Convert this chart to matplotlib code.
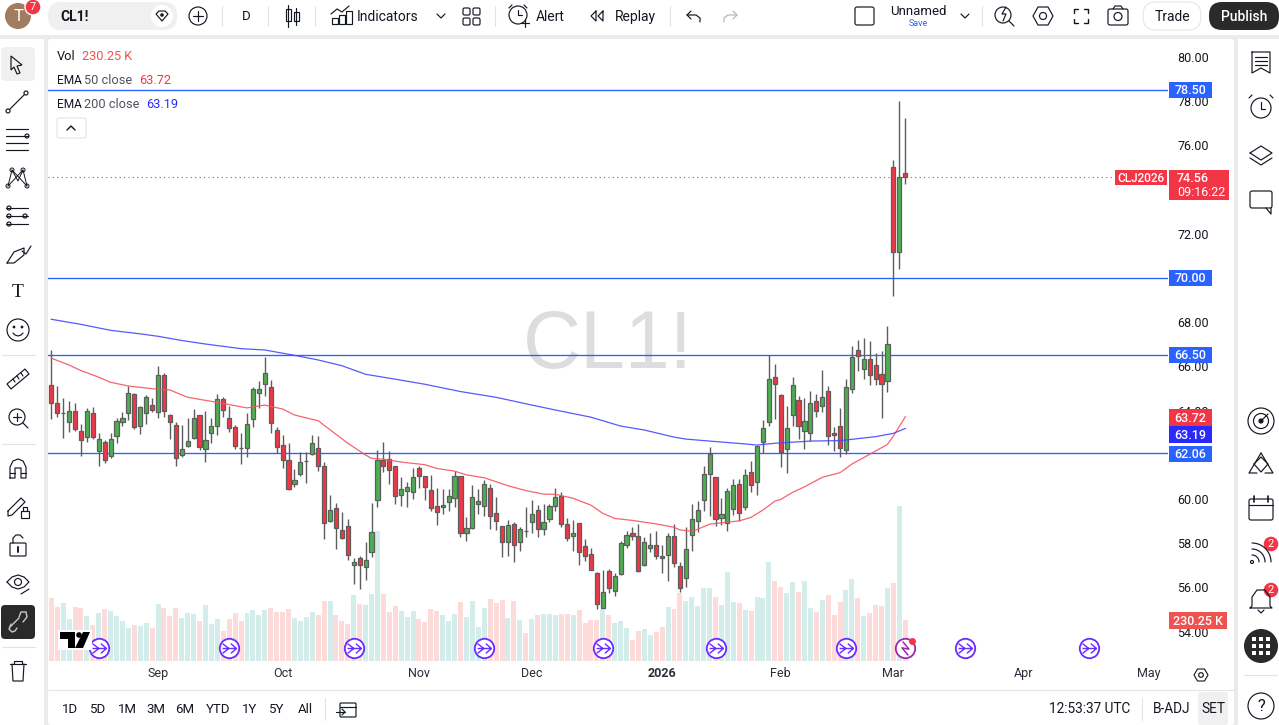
import numpy as np
import matplotlib
matplotlib.use('Agg')
from matplotlib import pyplot as plt
from matplotlib.patches import Circle, Rectangle, FancyBboxPatch, Polygon
from matplotlib.path import Path

# daily bars
opens = [65.14,64.33,63.88,63.47,63.97,63.06,62.79,63.88,62.16,62.57,
         61.93,62.84,63.47,63.88,64.74,63.29,63.88,64.24,63.92,65.60,
         63.79,63.34,61.98,62.41,62.75,63.79,62.25,62.97,63.29,64.54,
         63.65,63.24,62.31,62.29,63.61,64.78,65.19,65.05,63.11,62.43,
         61.75,60.67,61.12,61.70,62.02,62.29,61.48,58.99,59.58,58.58,
         58.76,57.00,57.31,56.91,57.59,59.94,61.75,61.79,61.48,60.17,
         60.35,60.30,61.39,61.03,60.39,59.67,59.62,59.85,60.03,61.03,
         58.45,58.67,59.76,59.67,60.48,59.35,58.76,58.04,58.85,58.04,
         58.55,58.94,59.49,58.63,59.08,59.67,60.12,58.85,58.34,58.90,
         57.86,57.50,56.64,55.05,56.73,55.85,56.59,57.91,58.45,58.31,
         57.00,57.77,57.91,57.41,57.45,58.31,56.96,56.41,58.36,58.99,
         59.94,61.12,60.98,59.13,58.90,59.54,60.67,59.62,61.21,60.76,
         62.57,63.47,65.51,64.69,62.25,63.79,64.47,63.06,62.97,64.42,
         64.20,64.87,62.97,63.29,62.20,64.96,66.73,65.87,66.32,66.05,
         65.64,65.32,75.01,71.19,74.74]
closes = [64.33,63.88,63.88,63.97,63.15,62.66,63.97,62.79,62.70,61.75,
          62.70,63.52,63.65,64.78,63.24,64.15,64.60,64.01,65.60,63.97,
          63.47,61.84,62.25,62.61,63.65,62.34,62.66,63.29,64.51,64.01,
          63.23,62.38,62.29,63.38,64.96,64.96,65.69,63.43,62.34,61.75,
          60.44,60.85,61.66,61.70,62.52,61.48,58.90,59.49,58.67,58.25,
          57.45,57.14,57.00,57.22,58.49,61.75,61.48,61.30,60.12,60.44,
          60.53,60.98,61.03,60.53,59.58,59.40,59.71,60.12,61.03,58.45,
          58.67,60.08,59.89,60.66,59.22,58.99,58.04,58.81,57.90,58.63,
          58.54,59.31,58.63,58.94,59.67,60.08,58.85,58.22,58.45,57.59,
          57.41,56.77,55.23,55.78,55.96,56.50,58.00,58.36,58.31,56.73,
          58.04,57.91,57.41,57.32,58.31,57.09,55.96,57.72,59.08,59.49,
          61.12,62.02,59.08,59.31,60.35,60.62,59.35,61.07,60.62,62.38,
          63.20,65.42,65.19,62.11,63.20,65.14,63.29,63.51,64.33,63.97,
          64.60,62.84,62.88,62.29,65.05,66.41,66.46,66.32,65.60,65.42,
          65.19,67.00,71.19,74.56,74.56]
highs = [66.74,65.11,64.57,64.44,64.33,63.40,64.10,64.15,62.97,62.67,
         62.97,63.65,63.92,65.11,64.78,64.20,64.69,64.56,66.02,65.69,
         63.83,63.47,63.35,63.65,64.06,63.79,63.98,63.65,64.74,64.60,
         64.21,63.33,62.97,63.88,65.05,65.33,66.41,65.37,63.24,62.88,
         62.52,61.34,62.11,62.11,62.88,62.84,61.66,60.18,59.81,59.40,
         59.08,57.31,57.41,58.04,59.80,62.22,62.56,62.16,61.48,60.98,
         60.77,61.39,61.48,61.03,61.07,60.48,60.44,60.44,61.25,61.03,
         59.17,60.62,60.44,60.86,60.66,60.08,58.76,59.04,58.94,58.72,
         59.62,59.94,59.71,59.76,59.76,60.48,60.30,59.13,59.04,58.90,
         58.17,57.77,56.68,56.77,56.82,56.64,58.10,58.55,58.73,58.86,
         58.27,58.45,58.54,57.91,58.45,58.87,57.14,58.74,59.78,59.90,
         61.48,62.34,60.98,60.03,60.48,60.89,60.89,61.34,61.71,62.38,
         63.56,66.50,66.09,64.74,64.20,65.51,64.65,64.56,64.87,64.74,
         65.82,65.10,63.24,64.10,65.42,66.94,67.20,67.28,67.15,66.59,
         66.68,67.83,75.34,78.01,77.24]
lows = [63.64,63.73,62.78,63.05,63.09,61.96,62.60,62.70,61.47,61.65,
        61.84,62.55,63.30,63.56,63.15,62.96,63.37,63.92,63.68,63.73,
        62.73,61.47,61.89,62.37,62.73,62.22,61.69,62.55,62.91,63.73,
        63.05,62.25,61.60,61.89,63.27,64.10,64.66,63.00,62.07,61.42,
        60.41,60.56,61.06,60.74,62.01,61.28,58.21,58.97,57.73,58.20,
        57.24,56.17,55.94,56.35,57.36,59.65,61.24,60.69,59.79,59.70,
        59.65,60.02,60.51,59.97,59.44,58.84,59.34,59.44,59.65,58.30,
        58.11,58.66,59.34,59.25,58.66,58.61,57.39,57.44,57.14,57.66,
        58.30,58.48,58.30,58.39,58.97,59.44,58.72,58.11,57.66,57.03,
        57.18,56.77,55.01,55.05,55.73,55.63,56.56,57.77,58.15,56.68,
        56.96,57.60,57.27,56.64,56.31,56.91,55.78,56.01,57.63,58.50,
        59.47,59.22,58.78,58.83,58.54,59.26,58.99,59.50,60.33,60.17,
        62.10,63.29,63.61,61.43,61.16,63.30,62.70,62.25,62.61,63.70,
        63.92,62.43,62.16,61.89,62.02,64.78,65.81,65.42,65.16,65.14,
        63.65,64.86,69.19,70.41,74.25]
# volume in thousands
volumes = [354,303,326,236,303,298,253,202,270,292,
           281,253,225,185,202,197,213,185,320,298,
           253,298,241,270,264,225,314,208,236,168,
           236,270,225,270,286,258,286,298,275,275,
           292,241,225,247,275,258,337,337,258,225,
           208,371,320,314,376,730,376,275,309,281,
           247,281,236,219,292,281,258,225,264,331,
           247,337,191,298,348,326,343,241,337,230,
           157,236,258,264,264,258,264,264,258,286,
           213,230,230,292,258,213,225,185,118,168,
           180,146,163,191,303,292,382,337,359,309,
           410,410,359,314,500,331,326,286,281,359,
           354,556,449,416,382,444,388,449,298,275,
           343,371,258,331,399,461,354,253,270,314,
           309,410,438,870,230.25]

ema50_idx = [0,3,5,8,10,13,18,20,23,28,33,36,39,41,45,48,50,53,54,56,59,63,65,68,70,73,77,80,
             83,85,88,91,93,95,98,102,105,106,108,109,111,114,116,118,120,122,123,125,127,130,
             133,135,138,141,142,144]
ema50 = [66.37,66.06,65.81,65.51,65.28,65.11,64.96,64.93,64.60,64.37,64.12,64.25,64.07,63.80,
         63.54,62.93,62.52,61.99,61.84,61.80,61.67,61.55,61.38,61.26,61.09,60.96,60.60,60.38,
         60.22,60.21,60.03,59.72,59.35,59.12,59.03,58.87,58.72,58.60,58.54,58.63,58.86,58.95,
         59.01,59.17,59.50,59.90,59.98,60.30,60.55,60.98,61.19,61.58,62.02,62.47,62.85,63.72]
ema200_idx = [0,5,10,15,18,22,26,32,36,41,45,49,53,58,63,69,75,81,86,91,96,100,105,107,111,
              117,119,122,128,133,135,139,142,144]
ema200 = [68.13,67.90,67.63,67.47,67.36,67.17,67.01,66.80,66.74,66.50,66.29,66.03,65.64,65.42,
          65.19,64.86,64.60,64.25,63.97,63.70,63.30,63.12,62.80,62.71,62.62,62.49,62.44,62.52,
          62.62,62.64,62.70,62.82,62.97,63.19]

hlines = [78.50, 70.00, 66.50, 62.06]
last_price = 74.56
event_idx = [8, 30, 51, 73, 93, 112, 134, 154, 175]
earnings_idx = [144]
price_ticks = list(range(54, 82, 2))
month_ticks = [18, 39, 62, 81, 103, 123, 142, 164, 185]
month_labels = ['Sep', 'Oct', 'Nov', 'Dec', '2026', 'Feb', 'Mar', 'Apr', 'May']
range_labels = ['1D', '5D', '1M', '3M', '6M', 'YTD', '1Y', '5Y', 'All']
range_x = [70, 98, 127, 156, 185, 218, 250, 277, 305]

plt.rcParams['font.family'] = ['Roboto', 'DejaVu Sans']
W, H = 1279, 725
INK = '#131722'
GREEN = '#4caf50'
RED = '#f23645'
BLUE = '#2962ff'
EMA_BLUE = '#2a2aff'
WICK = '#5d5d5d'

fig = plt.figure(figsize=(W / 100, H / 100), dpi=100, facecolor='#ebebeb')


def pane(x0, y0, x1, y1, **kw):
    return fig.add_axes([x0 / W, 1 - y1 / H, (x1 - x0) / W, (y1 - y0) / H], **kw)


def pixel_axes(zorder):
    a = fig.add_axes([0, 0, 1, 1], zorder=zorder)
    a.set_xlim(0, W)
    a.set_ylim(H, 0)
    a.axis('off')
    return a


bg = pixel_axes(0)
ui = pixel_axes(5)

X_LEFT, X_RIGHT, Y_TOP, Y_BOTTOM = 48, 1168, 39, 661
xlim = (-0.556, 188.3)

# volume sits in its own axes, under the candles
vax = pane(X_LEFT, Y_TOP, X_RIGHT, Y_BOTTOM, zorder=1)
vax.patch.set_visible(False)
vax.set_xlim(xlim)
vax.set_ylim(0, 3493)
vax.axis('off')

ax = pane(X_LEFT, Y_TOP, X_RIGHT, Y_BOTTOM, zorder=2)
ax.patch.set_visible(False)
ax.set_xlim(xlim)
ax.set_ylim(52.67, 80.81)
for s in ax.spines.values():
    s.set_visible(False)

idx = np.arange(len(closes))
o = np.array(opens)
c = np.array(closes)
up = c >= o

vax.bar(idx, volumes, width=0.84, color=['#d3eeea' if u else '#fddbda' for u in up], linewidth=0)
vax.text((608 - X_LEFT) / (X_RIGHT - X_LEFT), (Y_BOTTOM - 347) / (Y_BOTTOM - Y_TOP), 'CL1!',
         transform=vax.transAxes, ha='center', va='center', color='#dddddf',
         fontsize=58, family='Liberation Sans')

for level in hlines:
    ax.axhline(level, color=BLUE, lw=0.95, zorder=1)
ax.axhline(last_price, color=RED, lw=0.8, ls=(0, (1, 3)), zorder=1)

ax.vlines(idx, lows, highs, color=WICK, lw=1.0, zorder=3)
ax.bar(idx, np.abs(c - o), bottom=np.minimum(o, c), width=0.7,
       color=[GREEN if u else RED for u in up], edgecolor=WICK, linewidth=0.9, zorder=4)

ax.plot(ema50_idx, ema50, color='#f4545f', lw=0.9, alpha=0.9, zorder=5)
ax.plot(ema200_idx, ema200, color='#4646ff', lw=0.9, alpha=0.9, zorder=5)

# event markers along the bottom of the pane
arrow = Path([(-1, -.7), (-.1, 0), (-1, .7), (-1, 0), (1, 0), (.2, -.7), (1, 0), (.2, .7)],
             [1, 2, 2, 1, 2, 1, 2, 2])
mark_y = (Y_BOTTOM - 648) / (Y_BOTTOM - Y_TOP)
tr = ax.get_xaxis_transform()
ax.plot(event_idx, [mark_y] * len(event_idx), 'o', transform=tr, ms=14, mfc='white', mec='#6a2cff',
        mew=1.3, zorder=6, clip_on=False)
ax.plot(event_idx, [mark_y] * len(event_idx), ls='none', marker=arrow, transform=tr, ms=10,
        mfc='none', mec='#6a2cff', mew=1.0, zorder=7)
ax.plot(earnings_idx, [mark_y], 'o', transform=tr, ms=14, mfc='white', mec='#9c27b0', mew=1.3, zorder=6)
ax.plot(earnings_idx, [mark_y], ls='none', marker=Path([(.4, -1), (-.5, .1), (.5, -.1), (-.4, 1)]), transform=tr,
        ms=10, mfc='none', mec='#9c27b0', mew=1.1, zorder=7)
ax.plot(np.array(earnings_idx) + 1.1, [mark_y + 0.0113], 'o', transform=tr, ms=4, color=RED, zorder=8)

ax.yaxis.tick_right()
ax.set_yticks(price_ticks)
ax.set_yticklabels(['%.2f' % p for p in price_ticks], fontsize=9, color=INK)
ax.tick_params(axis='y', length=0, pad=6.5)
ax.set_xticks(month_ticks)
ax.set_xticklabels(month_labels, fontsize=9, color='#2a2e39')
ax.tick_params(axis='x', length=0, pad=4.5)
ax.get_xticklabels()[4].set_fontweight('bold')


# plain helpers for the toolbar furniture
def ln(xs, ys, col=INK, lw=0.85, a=None):
    (a or ui).plot(xs, ys, color=col, lw=lw, solid_capstyle='round', solid_joinstyle='round')


def ring(x, y, r, fc='none', ec=INK, lw=0.85, a=None):
    (a or ui).add_patch(Circle((x, y), r, fc=fc, ec=ec, lw=lw))


def box(x0, y0, x1, y1, fc='none', ec='none', lw=0.85, r=0, a=None):
    if r:
        p = FancyBboxPatch((x0 + r, y0 + r), x1 - x0 - 2 * r, y1 - y0 - 2 * r, boxstyle='round,pad=%g' % r,
                           fc=fc, ec=ec, lw=lw)
    else:
        p = Rectangle((x0, y0), x1 - x0, y1 - y0, fc=fc, ec=ec, lw=lw)
    (a or ui).add_patch(p)


def txt(x, y, s, size=9.5, col=INK, ha='left', weight='normal'):
    ui.text(x, y + 0.7, s, fontsize=size, color=col, ha=ha, va='center', fontweight=weight)


def tag(x0, y0, x1, y1, s, fc, size=9, weight='medium'):
    box(x0, y0, x1, y1, fc=fc)
    txt((x0 + x1) / 2, (y0 + y1) / 2, s, size=size, col='white', ha='center', weight=weight)


def badge(x, y, s, r=8):
    ring(x, y, r, fc=RED, ec='white', lw=1)
    txt(x, y - 0.7, s, size=8, col='white', ha='center')


# panels
box(0, 0, W, 35, fc='white', a=bg)
box(0, 39, 44, H, fc='white', a=bg)
box(48, 39, 1234, H, fc='white', a=bg, r=3)
box(1238, 39, W, H, fc='white', a=bg)
ln([48, 1234], [690, 690], col='#e6e6e6', lw=0.8, a=bg)

# top bar
ring(18, 16, 13, fc='#a27c5e', ec='none')
txt(18, 16, 'T', size=12, col='white', ha='center')
badge(33, 7, '7')
box(48, 2, 177, 30, fc='#f0f0f0', r=13)
txt(60, 16, 'CL1!', size=10, weight='bold')
ring(162, 16, 11, fc='white', ec='none')
ui.add_patch(Polygon([(156, 14), (159, 11), (165, 11), (168, 14), (162, 21)], fc='none', ec=INK, lw=0.85))
ring(162, 15, 1.8, fc=INK, ec='none')
ring(198, 16, 9)
ln([193, 203], [16, 16])
ln([198, 198], [11, 21])
for sx in [222, 268, 315, 495, 670, 982]:
    ln([sx, sx], [6, 26], col='#e0e3eb', lw=0.8)
txt(246, 16, 'D', size=9.5, ha='center')
# candle icon
for cx, t, b, wt, wb in [(288, 9, 21, 5, 27), (296, 12, 21, 8, 25)]:
    ln([cx, cx], [wt, wb])
    box(cx - 2.5, t, cx + 2.5, b, fc='white', ec=INK)
# indicators icon
for bx, bt in [(332, 18), (339, 15), (346, 11)]:
    box(bx, bt, bx + 6, 24, ec=INK)
ln([331, 337, 342, 349], [14, 9, 12, 6])
txt(357, 16, 'Indicators', size=10)
ln([437, 441, 445], [14, 18, 14])
for gx, gy in [(463, 8), (473, 8), (463, 18), (473, 18)]:
    box(gx, gy, gx + 7, gy + 7, ec=INK, r=1.5)
# alert
ring(518, 15, 9)
ln([518, 518, 522], [10, 15, 15])
ln([509, 512], [8, 5])
ln([524, 527], [5, 8])
ln([521, 529], [23, 23])
ln([525, 525], [19, 27])
txt(536, 16, 'Alert', size=10)
ln([596, 591, 596, 596], [11, 16, 21, 11])
ln([603, 598, 603, 603], [11, 16, 21, 11])
txt(615, 16, 'Replay', size=10)
ln([691, 687, 691], [11, 15, 19])
ln([687, 696, 700, 700], [15, 15, 18, 22])
ln([733, 737, 733], [11, 15, 19], col='#b2b5be')
ln([737, 728, 724, 724], [15, 15, 18, 22], col='#b2b5be')
box(855, 7, 874, 25, ec=INK, r=2)
txt(918, 11, 'Unnamed', size=9.5, ha='center')
txt(918, 23, 'Save', size=6.5, col=BLUE, ha='center')
ln([961, 965, 969], [14, 18, 14])
# quick search, settings, fullscreen, snapshot
ring(1003, 15, 8)
ln([1009, 1014], [21, 26])
ln([1006, 1002, 1006, 1003], [7, 14, 14, 21])
ui.add_patch(Polygon([(1033, 16), (1038, 7), (1048, 7), (1053, 16), (1048, 25), (1038, 25)], fc='none', ec=INK, lw=0.85))
ring(1043, 16, 3.5)
for fx, fy, dx, dy in [(1074, 9, 1, 1), (1088, 9, -1, 1), (1074, 23, 1, -1), (1088, 23, -1, -1)]:
    ln([fx + 4 * dx, fx, fx], [fy, fy, fy + 4 * dy], lw=1.0)
box(1108, 9, 1128, 25, ec=INK, r=2)
ring(1118, 16.5, 4)
ln([1113, 1115, 1121, 1123], [9, 6, 6, 9])
box(1143, 2, 1201, 30, fc='white', ec='#e6e6e6', lw=0.8, r=13)
txt(1172, 16, 'Trade', size=10, ha='center')
box(1209, 2, 1279, 30, fc='#2a2a2a', r=13)
txt(1244, 16, 'Publish', size=10, col='white', ha='center', weight='medium')

# left toolbar
box(1, 47, 35, 81, fc='#f0f0f0', r=4)
ui.add_patch(Polygon([(11, 56), (22, 65), (17, 66), (20, 73), (17, 74), (14, 67), (11, 70)], fc='none', ec=INK, lw=0.85))
ring(8, 111, 2)
ring(26, 93, 2)
ln([9.5, 24.5], [109.5, 94.5])
for ly in [129, 136, 143, 150]:
    ln([6, 28], [ly, ly])
ring(27, 136, 2, fc='white')
ln([8, 12, 18, 23, 27], [186, 170, 181, 170, 186], lw=0.7)
ln([8, 23], [186, 170], lw=0.7)
ln([12, 27], [170, 186], lw=0.7)
for nx, ny in [(8, 186), (12, 170), (23, 170), (27, 186)]:
    ring(nx, ny, 2, fc='white', lw=0.7)
for ly in [208, 216, 224]:
    ln([6, 28], [ly, ly])
    ring(9, ly, 2, fc='white')
ring(25, 216, 2, fc='white')
ln([7, 14, 24, 24, 14, 7], [263, 252, 248, 255, 263, 263])
ln([22, 26, 31], [251, 254, 246])
ui.text(18, 292, 'T', fontsize=14, color=INK, ha='center', va='center', family='Liberation Serif')
ring(18, 330, 11)
ln([13, 15, 18, 21, 23], [333, 335, 336, 335, 333])
ring(14, 327, 0.8, fc=INK)
ring(22, 327, 0.8, fc=INK)
for sy in [355, 444, 647]:
    ln([2, 35], [sy, sy], col='#e0e3eb', lw=0.8)
ui.add_patch(Polygon([(7, 384), (25, 369), (29, 374), (11, 389)], fc='none', ec=INK, lw=0.85))
ln([13, 15], [379, 382])
ln([17, 19], [376, 379])
ln([21, 23], [373, 376])
ring(17, 417, 8)
ln([13, 21], [417, 417])
ln([17, 17], [413, 421])
ln([23, 28], [423, 428])
ln([10, 10, 13, 18, 23, 26, 26, 21, 21, 15, 15, 10], [478, 467, 461, 459, 461, 467, 478, 478, 468, 468, 478, 478])
ln([10, 15], [473, 473])
ln([21, 26], [473, 473])
ln([8, 21, 25, 12, 8, 8], [511, 498, 502, 515, 516, 511])
box(21, 511, 29, 518, ec=INK)
ln([23, 23, 27, 27], [511, 507, 507, 511])
box(10, 543, 26, 556, ec=INK, r=1)
ln([13, 13, 16, 20, 23], [543, 538, 535, 535, 538])
ln([18, 18], [547, 552], lw=1.4)
ln([7, 12, 18, 24, 29, 24, 18, 12, 7], [582, 577, 575, 577, 582, 587, 589, 587, 582])
ring(18, 582, 3.5)
ln([21, 29], [594, 589])
box(1, 605, 35, 639, fc='#2a2a2a', r=4)
ln([10, 15, 19], [627, 622, 618], col='#c9c9c9', lw=1.0)
ln([11, 9, 12, 15, 17], [624, 629, 632, 631, 628], col='#c9c9c9', lw=1.0)
ln([19, 21, 26, 27, 23], [617, 612, 612, 617, 622], col='#c9c9c9', lw=1.0)
ln([10, 26], [664, 664])
ln([14, 14, 22, 22], [664, 661, 661, 664])
ln([12, 13, 23, 24], [664, 681, 681, 664])

# right toolbar
RX = 1261
ln([RX - 9, RX - 9, RX, RX + 9, RX + 9, RX - 9], [52, 73, 68, 73, 52, 52])
for ly in [57, 61, 65]:
    ln([RX - 6, RX + 6], [ly, ly])
ring(RX, 108, 10)
ln([RX, RX, RX + 4], [102, 109, 109])
ln([RX - 12, RX - 9], [98, 95])
ln([RX + 9, RX + 12], [95, 98])
ln([RX - 11, RX, RX + 11, RX, RX - 11], [153, 146, 153, 160, 153])
ln([RX - 11, RX, RX + 11], [158, 165, 158])
box(RX - 11, 191, RX + 11, 208, ec=INK, r=2)
ln([RX + 5, RX + 10, RX + 10], [208, 214, 208])
ring(RX, 421, 13)
ring(RX, 421, 7.5)
ring(RX, 421, 2, fc=INK)
ln([RX, RX + 7], [421, 414])
ln([RX, RX - 12, RX - 4], [453, 473, 473])
ln([RX, RX + 12, RX + 4], [453, 473, 473])
ln([RX - 7, RX, RX + 7, RX, RX - 7], [464, 457, 464, 472, 464])
box(RX - 12, 499, RX + 12, 520, ec=INK, r=2)
ln([RX - 12, RX + 12], [505, 505])
ln([RX - 7, RX - 7], [496, 502], lw=1.2)
ln([RX + 7, RX + 7], [496, 502], lw=1.2)
ring(RX - 9, 562, 1.5)
for rr in [7, 13, 19]:
    t = np.linspace(-np.pi / 2, 0, 20)
    ln(RX - 9 + rr * np.cos(t), 562 + rr * np.sin(t))
badge(1271, 544, '2', r=8)
ln([RX - 11, RX - 9, RX - 9, RX - 4, RX + 4, RX + 9, RX + 9, RX + 11, RX - 11], [608, 606, 597, 590, 590, 597, 606, 608, 608])
ln([RX - 3, RX, RX + 3], [610, 613, 610])
badge(1271, 590, '2', r=8)
ring(RX, 646, 17, fc='#2a2a2a', ec='none')
for gx in [-7, 0, 7]:
    for gy in [-7, 0, 7]:
        box(RX + gx - 2, 646 + gy - 2, RX + gx + 2, 646 + gy + 2, fc='white')
ln([1244, 1277], [675, 675], col='#e0e3eb', lw=0.8)
ring(RX, 706, 13)
txt(RX, 706, '?', size=12, ha='center')

# pane legend
txt(57, 55.5, 'Vol', size=9.2)
txt(82, 55.5, '230.25 K', size=9.2, col='#ef5350')
txt(57, 79.5, 'EMA', size=8.6)
txt(84, 79.5, '50 close', size=9.2, col='#50535e')
txt(139, 79.5, '63.72', size=9.2, col=RED)
txt(57, 103.5, 'EMA', size=8.6)
txt(84, 103.5, '200 close', size=9.2, col='#50535e')
txt(146, 103.5, '63.19', size=9.2, col=EMA_BLUE)
box(57, 118, 86, 138, fc='white', ec='#e0e3eb', lw=0.8, r=2)
ln([67, 71, 75], [130, 126, 130], lw=1.0)

# TradingView mark
box(58, 630, 92, 650, fc='white')
ui.add_patch(Polygon([(60, 632), (75, 632), (75, 648), (68, 648), (68, 639), (60, 639)], fc='black', ec='none'))
ring(79, 635, 2.8, fc='black', ec='none')
ui.add_patch(Polygon([(83, 632), (90, 632), (83, 648), (75, 648)], fc='black', ec='none'))

# price axis tags
tag(1169, 82, 1212, 98, '78.50', BLUE)
tag(1169, 270, 1212, 286, '70.00', BLUE)
tag(1169, 347, 1212, 363, '66.50', BLUE)
tag(1115, 170, 1167, 185, 'CLJ2026', RED, size=8.5)
box(1169, 170, 1229, 200, fc=RED)
txt(1177, 177.5, '74.56', size=9, col='white', weight='medium')
txt(1177, 191.5, '09:16:22', size=9, col='white')
tag(1169, 409, 1212, 426, '63.72', RED)
tag(1169, 426, 1212, 443, '63.19', EMA_BLUE)
tag(1169, 446, 1212, 462, '62.06', BLUE)
tag(1169, 612, 1227, 629, '230.25 K', '#ef5350')
ui.add_patch(Polygon([(1194, 675), (1197.5, 669), (1204.5, 669), (1208, 675), (1204.5, 681), (1197.5, 681)], fc='none', ec=INK, lw=0.8))
ring(1201, 675, 2.3)

# bottom bar
for s, bx in zip(range_labels, range_x):
    txt(bx, 708.5, s, size=9.5, ha='center')
ln([325, 325], [698, 720], col='#e0e3eb', lw=0.8)
box(340, 703, 356, 717, ec=INK, r=1)
ln([340, 356], [707, 707])
ln([336, 345], [712, 712])
ln([342, 345, 342], [709, 712, 715])
txt(1090, 708.5, '12:53:37 UTC', size=9.8, ha='center')
ln([1142, 1142], [698, 720], col='#e0e3eb', lw=0.8)
txt(1172, 708.5, 'B-ADJ', size=9.8, ha='center')
box(1198, 692, 1228, 725, fc='#f0f0f0', r=3)
txt(1213, 708.5, 'SET', size=9.8, ha='center')

fig.savefig('out.png', dpi=100, facecolor=fig.get_facecolor())
